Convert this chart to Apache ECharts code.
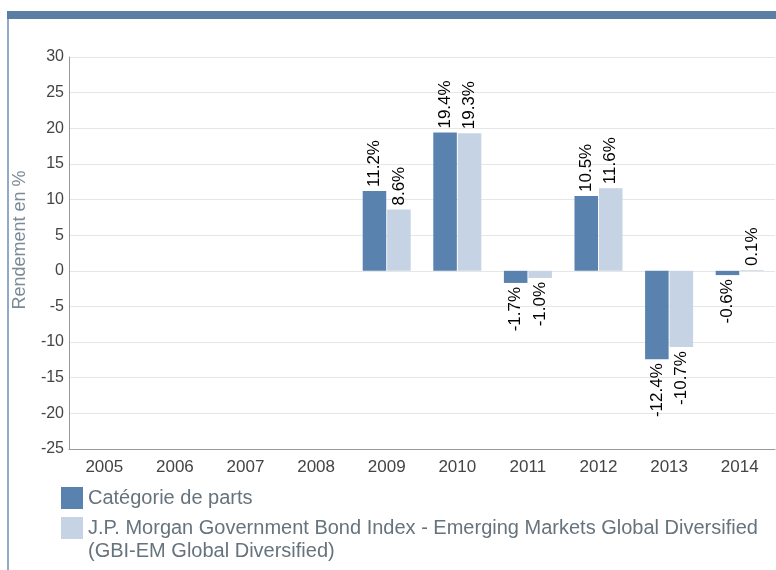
<!DOCTYPE html>
<html>
<head>
<meta charset="utf-8">
<script src="https://cdn.jsdelivr.net/npm/echarts@6/dist/echarts.min.js"></script>
<style>
  html, body { margin: 0; padding: 0; background: #fff; }
  #chart { width: 776px; height: 570px; }
</style>
</head>
<body>
<div id="chart"></div>
<script>
// années et rendements (%)
const years = ['2005', '2006', '2007', '2008', '2009', '2010', '2011', '2012', '2013', '2014'];
const shareClass = [null, null, null, null, 11.2, 19.4, -1.7, 10.5, -12.4, -0.6];
const benchmark = [null, null, null, null, 8.6, 19.3, -1.0, 11.6, -10.7, 0.1];
const seriesNames = [
  'Catégorie de parts',
  'J.P. Morgan Government Bond Index - Emerging Markets Global Diversified\n(GBI-EM Global Diversified)'
];
const colors = ['#5a82ae', '#c5d3e4'];

const font = '"Liberation Sans", Arial, sans-serif';

// étiquette verticale : au-dessus si positif, en dessous si négatif
function withLabels(values) {
  return values.map(v => {
    if (v === null) return null;
    return {
      value: v,
      label: v >= 0
        ? { position: 'top', align: 'left', verticalAlign: 'middle' }
        : { position: 'bottom', align: 'right', verticalAlign: 'middle' }
    };
  });
}

const chart = echarts.init(document.getElementById('chart'));

const barLabel = {
  show: true,
  rotate: 90,
  distance: 4,
  color: '#000',
  fontSize: 17,
  fontFamily: font,
  formatter: p => p.value.toFixed(1) + '%'
};

chart.setOption({
  animation: false,
  graphic: [
    { type: 'rect', shape: { x: 7, y: 11, width: 769, height: 8 }, style: { fill: '#5a7fa3' } },
    { type: 'rect', shape: { x: 7, y: 19, width: 2, height: 551 }, style: { fill: '#8eaac6' } }
  ],
  grid: { left: 69, right: 1, top: 57, bottom: 121, containLabel: false, outerBoundsMode: 'none' },
  legend: [
    {
      left: 61, top: 487, padding: 0, orient: 'vertical',
      itemWidth: 22, itemHeight: 22,
      icon: 'rect',
      data: [seriesNames[0]],
      textStyle: { color: '#66737d', fontSize: 20, fontFamily: font }
    },
    {
      left: 61, top: 493.5, padding: 0, orient: 'vertical',
      itemWidth: 22, itemHeight: 22,
      icon: 'rect',
      data: [seriesNames[1]],
      // ligne vide en tête : la première ligne reste centrée sur le carré
      formatter: name => '\n' + name,
      textStyle: { color: '#66737d', fontSize: 20, lineHeight: 23, fontFamily: font }
    }
  ],
  xAxis: {
    type: 'category',
    data: years,
    axisLine: { onZero: false, lineStyle: { color: '#999' } },
    axisTick: { show: false },
    axisLabel: { color: '#444', fontSize: 17, fontFamily: font, margin: 10 }
  },
  yAxis: {
    type: 'value',
    min: -25,
    max: 30,
    interval: 5,
    name: 'Rendement en %',
    nameLocation: 'middle',
    nameGap: 40,
    nameTextStyle: { color: '#7b8a97', fontSize: 18, fontFamily: font, padding: [0, 0, 0, 26] },
    axisLine: { show: true, lineStyle: { color: '#999' } },
    axisTick: { show: false },
    axisLabel: { color: '#444', fontSize: 16, fontFamily: font, margin: 5 },
    splitLine: { lineStyle: { color: '#e6e6e6' } }
  },
  series: [
    {
      name: seriesNames[0],
      type: 'bar',
      data: withLabels(shareClass),
      barGap: '4%',
      barCategoryGap: '32%',
      itemStyle: { color: colors[0] },
      label: barLabel
    },
    {
      name: seriesNames[1],
      type: 'bar',
      data: withLabels(benchmark),
      itemStyle: { color: colors[1] },
      label: barLabel
    }
  ]
});
</script>
</body>
</html>
